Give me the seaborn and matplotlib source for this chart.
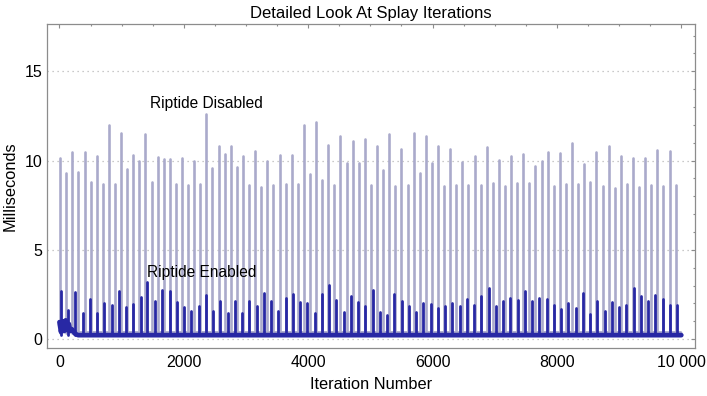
import numpy as np
import pandas as pd
import matplotlib
matplotlib.use('Agg')
import matplotlib.pyplot as plt
from matplotlib.ticker import FixedLocator, MultipleLocator
import seaborn as sns

# spike positions (iteration) and peak heights (ms)
disabled_iter = [11, 109, 207, 305, 403, 501, 599, 697, 795, 893, 991, 1089, 1187, 1285, 1383, 1481,
                 1579, 1677, 1775, 1873, 1971, 2069, 2167, 2265, 2363, 2461, 2559, 2657, 2755, 2853,
                 2951, 3049, 3147, 3245, 3343, 3441, 3539, 3637, 3735, 3833, 3931, 4029, 4127, 4225,
                 4323, 4421, 4519, 4617, 4715, 4813, 4911, 5009, 5107, 5205, 5303, 5401, 5499, 5597,
                 5695, 5793, 5891, 5989, 6087, 6185, 6283, 6381, 6479, 6577, 6675, 6773, 6871, 6969,
                 7067, 7165, 7263, 7361, 7459, 7557, 7655, 7753, 7851, 7949, 8047, 8145, 8243, 8341,
                 8439, 8537, 8635, 8733, 8831, 8929, 9027, 9125, 9223, 9321, 9419, 9517, 9615, 9713,
                 9811, 9909]
disabled_ms = [10.13, 9.30, 10.50, 9.38, 10.50, 8.80, 10.26, 8.70, 11.97, 8.70, 11.55, 9.53, 10.32,
               9.96, 11.50, 8.78, 10.19, 10.07, 10.11, 8.67, 10.13, 8.65, 9.96, 8.67, 12.62, 9.59,
               10.82, 10.36, 10.82, 9.63, 10.26, 8.63, 10.52, 8.52, 9.98, 8.61, 10.30, 8.70, 10.32,
               8.69, 12.00, 9.25, 12.17, 8.91, 10.88, 8.63, 11.39, 9.87, 11.10, 9.87,
               11.20, 8.61, 10.80, 9.46, 11.46, 8.58, 10.67, 8.61, 11.55, 9.33, 11.35, 9.87, 10.82,
               8.60, 10.64, 8.63, 9.90, 8.65, 10.24, 8.63, 10.77, 8.73, 10.04, 8.56, 10.26, 8.75,
               10.36, 8.76, 9.70, 10.00, 10.47, 8.60, 10.45, 8.69, 11.01, 8.69, 9.83, 8.80, 10.49,
               8.56, 10.80, 8.48, 10.28, 8.67, 10.13, 8.52, 10.17, 8.63, 10.60, 8.60, 10.54, 8.65]

enabled_iter = [22, 139, 255, 372, 488, 605, 722, 838, 955, 1071, 1188, 1305, 1400, 1538, 1654, 1771,
                1888, 2004, 2121, 2237, 2354, 2471, 2587, 2704, 2820, 2937, 3054, 3170, 3287, 3403,
                3520, 3637, 3753, 3870, 3986, 4103, 4220, 4336, 4453, 4569, 4686, 4803, 4919, 5036,
                5152, 5269, 5386, 5502, 5619, 5735, 5852, 5969, 6085, 6202, 6318, 6435, 6552, 6668,
                6785, 6901, 7018, 7135, 7251, 7368, 7484, 7601, 7718, 7834, 7951, 8067, 8184, 8301,
                8417, 8534, 8650, 8767, 8884, 9000, 9117, 9233, 9350, 9467, 9583, 9700, 9816, 9925]
enabled_ms = [2.72, 1.64, 2.61, 1.46, 2.24, 1.46, 2.01, 1.90, 2.69, 1.79, 1.96, 2.35, 3.17, 2.13,
              2.74, 2.67, 2.05, 1.79, 1.60, 1.88, 2.48, 1.60, 2.16, 1.46, 2.11, 1.46, 2.13, 1.83,
              2.59, 2.15,
              1.60, 2.29, 2.52, 2.07, 2.01, 1.46, 2.54, 3.04, 2.18, 1.53, 2.41, 2.07, 1.87, 2.74,
              1.49, 1.36, 2.50, 2.13, 1.88, 1.51, 2.01, 1.98, 1.75, 1.87, 2.03, 1.83, 2.24, 1.92,
              2.39, 2.87,
              1.85, 2.13, 2.29, 2.18, 2.67, 2.15, 2.29, 2.24, 1.92, 1.68, 2.03, 1.74, 2.56, 1.40,
              2.15, 1.55, 2.07, 1.79, 1.90, 2.85, 2.39, 2.11, 2.46, 2.22, 1.92, 1.92]

# background level between spikes
disabled_base_iter = [0, 40, 80, 120, 160, 200, 300, 9990]
disabled_base_ms = [0.80, 0.55, 0.75, 0.60, 0.65, 0.50, 0.35, 0.35]
enabled_base_iter = [0, 25, 50, 75, 100, 125, 150, 175, 200, 250, 300, 10000]
enabled_base_ms = [0.95, 0.40, 1.00, 0.45, 1.05, 0.50, 0.85, 0.45, 0.55, 0.30, 0.22, 0.22]

x_ticks = [0, 2000, 4000, 6000, 8000, 10000]
x_tick_labels = ['0', '2000', '4000', '6000', '8000', '10 000']
y_ticks = [0, 5, 10, 15]

sns.set_style('white')
plt.rcParams['font.family'] = ['Liberation Sans', 'DejaVu Sans']
plt.rcParams['text.color'] = 'black'
plt.rcParams['axes.labelcolor'] = 'black'

light = '#aaaacb'
dark = '#2828a4'
frame = '#8c8c8c'


def spike_frame(iters, peaks, floor):
    n = len(iters)
    return pd.DataFrame({'iteration': list(iters) * 2,
                         'ms': [floor] * n + list(peaks),
                         'spike': list(range(n)) * 2})


fig = plt.figure(figsize=(7.07, 3.96), dpi=100)
ax = fig.add_axes([0.0665, 0.1212, 0.9165, 0.8182])

ax.grid(axis='y', which='major', linestyle=(0, (1, 3)), color='#b8b8b8', lw=0.9, zorder=0)

sns.lineplot(x=disabled_base_iter, y=disabled_base_ms, color=light, lw=2.5, ax=ax, zorder=2)
sns.lineplot(data=spike_frame(disabled_iter, disabled_ms, 0.35), x='iteration', y='ms',
             units='spike', estimator=None, color=light, lw=1.9, ax=ax, zorder=2)
sns.lineplot(x=enabled_base_iter, y=enabled_base_ms, color=dark, lw=3.4, ax=ax, zorder=3)
sns.lineplot(data=spike_frame(enabled_iter, enabled_ms, 0.22), x='iteration', y='ms',
             units='spike', estimator=None, color=dark, lw=2.0, ax=ax, zorder=3)

ax.text(2367, 13.2, 'Riptide Disabled', ha='center', va='center', fontsize=11.2, color='black')
ax.text(2294, 3.75, 'Riptide Enabled', ha='center', va='center', fontsize=11.2, color='black')

ax.set_xlim(-200, 10220)
ax.set_ylim(-0.5, 17.65)
ax.xaxis.set_major_locator(FixedLocator(x_ticks))
ax.set_xticklabels(x_tick_labels)
ax.xaxis.set_minor_locator(MultipleLocator(500))
ax.yaxis.set_major_locator(FixedLocator(y_ticks))
ax.yaxis.set_minor_locator(MultipleLocator(1))
ax.tick_params(which='both', direction='in', top=True, right=True, color=frame,
               labelsize=11.5, labelcolor='black', width=0.8)
ax.tick_params(which='major', length=2.6)
ax.tick_params(which='minor', length=1.5)
ax.tick_params(axis='x', pad=5)

for s in ['top', 'right', 'left', 'bottom']:
    ax.spines[s].set_color(frame)
    ax.spines[s].set_linewidth(0.9)

ax.set_title('Detailed Look At Splay Iterations', fontsize=12, pad=4, color='black')
ax.set_xlabel('Iteration Number', fontsize=11.8, labelpad=5)
ax.set_ylabel('Milliseconds', fontsize=11.8, labelpad=5)

fig.savefig('out.png', dpi=100)
